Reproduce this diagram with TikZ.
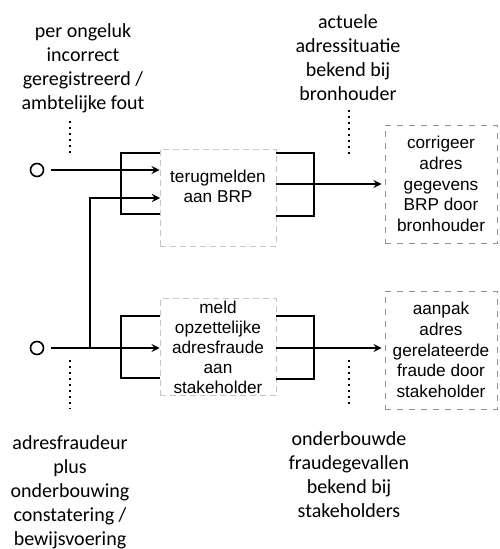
\documentclass[tikz,border=0pt]{standalone}
\usepackage{fontspec}
\setmainfont{Carlito}
\newfontfamily\boxfont{Liberation Sans}
\usetikzlibrary{positioning}

\begin{document}
\begin{tikzpicture}[x=0.5pt,y=-0.5pt,>=stealth,thick]

\tikzstyle{bron}=[circle,draw,minimum size=6.5pt,inner sep=0pt]
\tikzstyle{lbl}=[align=center,font=\fontsize{10}{12}\selectfont,inner sep=1pt]
\tikzstyle{proc}=[rectangle,draw=gray!45,densely dashed,thin,minimum width=58pt,minimum height=48.5pt,inner sep=0pt]
\tikzstyle{proctext}=[align=center,font=\boxfont\fontsize{8.6}{10}\selectfont,inner sep=0pt]
\tikzstyle{uit}=[rectangle,draw=gray!85,dashed,thin,minimum width=56pt,minimum height=59pt,inner sep=0pt,align=center,font=\boxfont\fontsize{8.6}{10.4}\selectfont]
\tikzstyle{dotline}=[dotted,line width=1pt]

\useasboundingbox (0,0) rectangle (499,549);

% labels
\node[lbl] (l1) at (83,68) {per ongeluk\\incorrect\\geregistreerd /\\ambtelijke fout};
\node[lbl] (l2) at (348,58) {actuele\\adressituatie\\bekend bij\\bronhouder};
\node[lbl] (l3) at (70,492) {adresfraudeur\\plus\\onderbouwing\\constatering /\\bewijsvoering};
\node[lbl] (l4) at (349,475) {onderbouwde\\fraudegevallen\\bekend bij\\stakeholders};

% bronnen
\node[bron] (o1) at (37,170) {};
\node[bron] (o2) at (37,348) {};

% processen
\node[proc] (p1) at (218,198) {};
\node[proctext] (t1) at (218,186) {terugmelden\\aan BRP};
\node[proc] (p2) at (218,347) {};
\node[proctext] (t2) at (218,347) {meld\\opzettelijke\\adresfraude\\aan\\stakeholder};

% uitkomsten
\node[uit] (r1) at (441,184) {corrigeer\\adres\\gegevens\\BRP door\\bronhouder};
\node[uit] (r2) at (441,350) {aanpak\\adres\\gerelateerde\\fraude door\\stakeholder};

% bracket corners
\coordinate (a1) at (121,153);
\coordinate (a2) at (121,214);
\coordinate (a3) at (121,316);
\coordinate (a4) at (121,378);
\coordinate (b1) at (314,153);
\coordinate (b2) at (314,216);
\coordinate (b3) at (314,316);
\coordinate (b4) at (314,379);
\coordinate (j) at (90,348);
\coordinate (in1) at (160,198);
\coordinate (c1) at (276,184);
\coordinate (c2) at (276,348);

% inputs
\draw[->,shorten <=3.5pt] (o1) -- (o1 -| p1.west);
\draw[->,shorten <=3.5pt] (o2) -- (o2 -| p2.west);
\draw[->] (j) |- (in1);
\draw (a1 -| p1.west) -- (a1) -- (a2) -- (a2 -| p1.west);
\draw (a3 -| p2.west) -- (a3) -- (a4) -- (a4 -| p2.west);

% outputs
\draw (b1 -| p1.east) -- (b1) -- (b2) -- (b2 -| p1.east);
\draw (b3 -| p2.east) -- (b3) -- (b4) -- (b4 -| p2.east);
\draw[->,shorten >=1.5pt] (c1) -- (c1 -| r1.west);
\draw[->,shorten >=1.5pt] (c2) -- (c2 -| r2.west);

% dotted
\coordinate (d1) at (70,157);
\coordinate (d2) at (349,157);
\coordinate (d3) at (70,360);
\coordinate (d4) at (349,360);
\draw[dotline,shorten <=3pt] (d1 |- l1.south) -- (d1);
\draw[dotline,shorten <=3pt] (d2 |- l2.south) -- (d2);
\draw[dotline,shorten >=12pt] (d3) -- (d3 |- l3.north);
\draw[dotline,shorten >=12pt] (d4) -- (d4 |- l4.north);

\end{tikzpicture}
\end{document}
